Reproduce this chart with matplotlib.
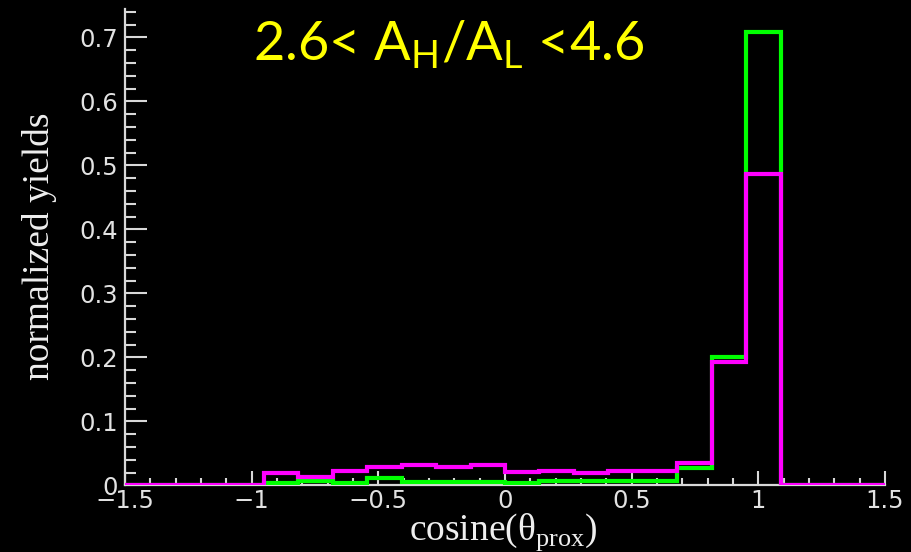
import matplotlib
matplotlib.use("Agg")
import matplotlib.pyplot as plt
import numpy as np

# ---- data ----
bin_edges = [-0.952, -0.816, -0.680, -0.544, -0.408, -0.272, -0.136, 0.0,
             0.136, 0.272, 0.408, 0.544, 0.680, 0.816, 0.952, 1.088]
magenta_vals = [0.019, 0.0135, 0.022, 0.028, 0.032, 0.029, 0.032, 0.021,
                0.023, 0.020, 0.022, 0.023, 0.035, 0.192, 0.486]
green_vals = [0.003, 0.007, 0.004, 0.011, 0.0045, 0.0045, 0.0045, 0.003,
              0.0065, 0.0065, 0.0065, 0.0065, 0.027, 0.200, 0.708]
x_range = [-1.5, 1.5]
y_range = [0.0, 0.744]
x_ticks = [-1.5, -1.0, -0.5, 0.0, 0.5, 1.0, 1.5]
x_ticklabels = ["\u22121.5", "\u22121", "\u22120.5", "0", "0.5", "1", "1.5"]
y_ticks = [0, 0.1, 0.2, 0.3, 0.4, 0.5, 0.6, 0.7]
y_ticklabels = ["0", "0.1", "0.2", "0.3", "0.4", "0.5", "0.6", "0.7"]
title = r"2.6< A$_\mathregular{H}$/A$_\mathregular{L}$ <4.6"
xlabel = r"cosine(θ$_\mathregular{prox}$)"
ylabel = "normalized yields"

W, H = 912, 552
fig = plt.figure(figsize=(W / 100, H / 100), dpi=100, facecolor="black")
ax = fig.add_axes([125 / W, 1 - 485.3 / H, 760 / W, 476 / H])
ax.set_facecolor("black")

edges_full = [x_range[0]] + bin_edges + [x_range[1]]
green_full = [0.0] + green_vals + [0.0]
mag_full = [0.0] + magenta_vals + [0.0]
ax.stairs(green_full, edges_full, baseline=None, color="#00ff00", lw=3.0, zorder=3)
ax.stairs(mag_full, edges_full, baseline=None, color="#ff00ff", lw=3.0, zorder=4)

ax.set_xlim(*x_range)
ax.set_ylim(*y_range)

axcol = "#d8d8d8"
for s in ["top", "right"]:
    ax.spines[s].set_visible(False)
for s in ["left", "bottom"]:
    ax.spines[s].set_color(axcol)
    ax.spines[s].set_linewidth(1.6)
    ax.spines[s].set_zorder(2)

ax.set_xticks(x_ticks)
ax.set_xticklabels(x_ticklabels)
ax.set_yticks(y_ticks)
ax.set_yticklabels(y_ticklabels)
ax.set_xticks(np.arange(-1.5, 1.5001, 0.1), minor=True)
ax.set_yticks(np.arange(0, 0.7401, 0.02), minor=True)

ax.tick_params(axis="x", which="major", direction="in", length=10, width=1.5,
               color=axcol, pad=3)
ax.tick_params(axis="x", which="minor", direction="in", length=5, width=1.5,
               color=axcol)
ax.tick_params(axis="y", which="major", direction="in", length=16, width=1.5,
               color=axcol, pad=5)
ax.tick_params(axis="y", which="minor", direction="in", length=8, width=1.5,
               color=axcol)
for lab in ax.get_xticklabels() + ax.get_yticklabels():
    lab.set_fontfamily("DejaVu Sans")
    lab.set_fontsize(17.5)
    lab.set_color("#e2e2e2")

fig.text(503 / W, 1 - 540 / H, xlabel, ha="center", va="baseline",
         fontsize=27, color="#eeeeee", family="Liberation Serif")
fig.text(40 / W, 1 - 246 / H, ylabel, ha="center", va="center", rotation=90,
         fontsize=27, color="#eeeeee", family="Liberation Serif")
fig.text(449 / W, 1 - 60 / H, title, ha="center", va="baseline",
         fontsize=39, color="#ffff00", family="Lato")

fig.savefig("out.png", dpi=100, facecolor="black")
